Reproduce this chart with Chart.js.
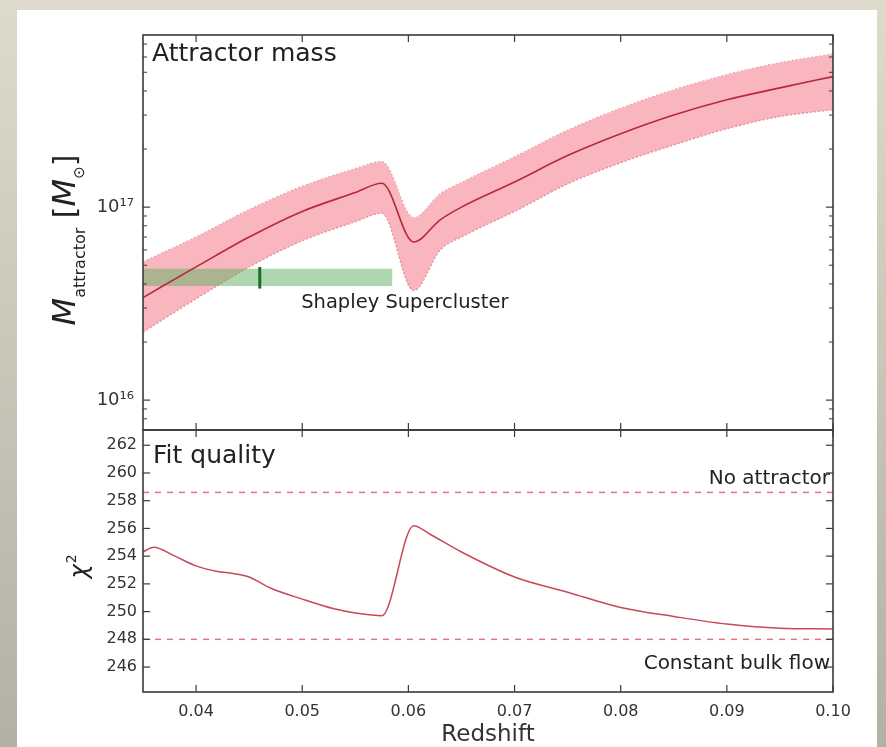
<!DOCTYPE html>
<html><head><meta charset="utf-8">
<script src="https://cdn.jsdelivr.net/npm/chart.js@4.4.1/dist/chart.umd.min.js"></script>
<style>
html,body{margin:0;padding:0;width:886px;height:747px;overflow:hidden;background:linear-gradient(#dedbcd,#b3b1a3);}
#panel{position:absolute;left:17px;top:10px;width:860px;height:737px;background:#fff;}
.wrap{position:absolute;left:0;top:0;width:886px;height:747px;}
canvas{position:absolute;left:0;top:0;}
</style></head>
<body>
<div id="panel"></div>
<div class="wrap"><canvas id="c1" width="886" height="747"></canvas></div>
<div class="wrap"><canvas id="c2" width="886" height="747"></canvas></div>
<script>
// ---------- data ----------
const redshift  = [0.035,0.040,0.045,0.050,0.055,0.0575,0.0605,0.063,0.065,0.070,0.075,0.080,0.085,0.090,0.095,0.100];
const massBest  = [3.4, 4.9, 7.0, 9.5, 11.9, 13.3, 6.6, 8.6, 10.0, 13.5, 18.5, 24.0, 30.0, 36.0, 41.5, 47.5]; // x 1e16 Msun
const massUpper = [5.2, 7.0, 9.7, 12.8,15.8, 17.2, 8.8, 11.7,13.4,18.2, 25.0, 32.5, 40.5, 48.5, 56.0, 62.0];
const massLower = [2.25,3.35,4.9, 6.7, 8.4,  9.3, 3.7, 6.0, 7.0, 9.5, 13.2, 17.0, 21.0, 25.5, 29.5, 32.0];
const massUnit = 1e16;

const chiZ = [0.035,0.036,0.038,0.040,0.042,0.0435,0.045,0.047,0.050,0.053,0.055,0.0575,0.0605,0.062,0.065,0.070,0.075,0.080,0.085,0.090,0.095,0.100];
const chi2 = [254.3,254.65,254.0,253.3,252.9,252.75,252.5,251.7,250.9,250.2,249.9,249.7,256.2,255.6,254.3,252.5,251.4,250.3,249.65,249.1,248.8,248.75];

const shapleyZ = [0.035, 0.0585];
const shapleyMass = [3.9e16, 4.8e16];
const shapleyCentreZ = 0.046;
const noAttractorChi2 = 258.6;
const bulkFlowChi2 = 248.0;

const xTicks = [0.04,0.05,0.06,0.07,0.08,0.09,0.10];
const massTicks = [1e16, 1e17];
const massMinorTicks = [8e15,9e15,2e16,3e16,4e16,5e16,6e16,7e16,8e16,9e16,2e17,3e17,4e17,5e17,6e17,7e17];
const chiTicks = [246,248,250,252,254,256,258,260,262];
const supDigits = {'0':'\u2070','1':'\u00b9','2':'\u00b2','3':'\u00b3','4':'\u2074','5':'\u2075','6':'\u2076','7':'\u2077','8':'\u2078','9':'\u2079'};

Chart.defaults.font.family = "'DejaVu Sans', sans-serif";
Chart.defaults.color = '#333';

const FONT = "'DejaVu Sans', sans-serif";
const LEFT = 143, RIGHT_PAD = 53;

function frame(chart, yMajor, yMinor) {
  const {ctx, chartArea: a, scales} = chart;
  const xs = scales.x, ys = scales.y;
  ctx.save();
  ctx.strokeStyle = '#3a3a3a';
  const seg = (x1,y1,x2,y2) => {ctx.beginPath();ctx.moveTo(x1,y1);ctx.lineTo(x2,y2);ctx.stroke();};
  ctx.lineWidth = 1.2;
  xTicks.forEach(v => {const p = xs.getPixelForValue(v); seg(p,a.top,p,a.top+7); seg(p,a.bottom,p,a.bottom-7);});
  yMajor.forEach(v => {const p = ys.getPixelForValue(v); seg(a.left,p,a.left+7,p); seg(a.right,p,a.right-7,p);});
  ctx.lineWidth = 1;
  yMinor.forEach(v => {const p = ys.getPixelForValue(v); seg(a.left,p,a.left+4,p); seg(a.right,p,a.right-4,p);});
  ctx.lineWidth = 1.6;
  ctx.strokeRect(a.left, a.top, a.right-a.left, a.bottom-a.top);
  ctx.restore();
}

// ---------- top chart ----------
const pts = (xs, ys, k=1) => xs.map((x,i)=>({x, y: ys[i]*k}));

const topPlugin = {
  id: 'topDecor',
  afterDraw(chart) {
    frame(chart, massTicks, massMinorTicks);
    const {ctx, chartArea: a, scales} = chart;
    ctx.save();
    ctx.fillStyle = '#222';
    ctx.textBaseline = 'alphabetic';
    ctx.font = `25px ${FONT}`;
    ctx.fillText('Attractor mass', a.left + 9, a.top + 26);
    ctx.font = `19.5px ${FONT}`;
    ctx.fillText('Shapley Supercluster', scales.x.getPixelForValue(0.0499), scales.y.getPixelForValue(3.0e16));
    // y-axis title
    const parts = [
      {t:'M', f:`italic 32px ${FONT}`, dy:0},
      {t:'attractor', f:`16px ${FONT}`, dy:10},
      {t:' [', f:`30px ${FONT}`, dy:0},
      {t:'M', f:`italic 32px ${FONT}`, dy:0},
      {t:'\u2299', f:`15px ${FONT}`, dy:9},
      {t:']', f:`30px ${FONT}`, dy:0}
    ];
    let w = 0;
    parts.forEach(p => {ctx.font = p.f; p.w = ctx.measureText(p.t).width; w += p.w;});
    ctx.translate(75, 240);
    ctx.rotate(-Math.PI/2);
    let u = -w/2;
    parts.forEach(p => {ctx.font = p.f; ctx.fillText(p.t, u, p.dy); u += p.w;});
    ctx.restore();
  }
};

new Chart(document.getElementById('c1'), {
  type: 'line',
  data: {
    datasets: [
      {label:'mass', data: pts(redshift, massBest, massUnit), borderColor:'#b8283a', borderWidth:1.6,
       pointRadius:0, fill:false, cubicInterpolationMode:'monotone', order:0},
      {label:'shapleyCentre', data:[{x:shapleyCentreZ,y:shapleyMass[0]*0.97},{x:shapleyCentreZ,y:shapleyMass[1]*1.02}],
       borderColor:'#1f6b2c', borderWidth:3, pointRadius:0, fill:false, order:1},
      {label:'shapleyHi', data: shapleyZ.map(z=>({x:z,y:shapleyMass[1]})), borderColor:'rgba(0,0,0,0)', borderWidth:0,
       pointRadius:0, fill:false, order:3},
      {label:'shapleyLo', data: shapleyZ.map(z=>({x:z,y:shapleyMass[0]})), borderColor:'rgba(0,0,0,0)', borderWidth:0,
       pointRadius:0, fill:'-1', backgroundColor:'rgba(95,175,95,0.5)', order:2},
      {label:'upper', data: pts(redshift, massUpper, massUnit), borderColor:'rgba(232,135,148,0.9)', borderWidth:1.4, borderDash:[2,2],
       pointRadius:0, fill:false, cubicInterpolationMode:'monotone', order:5},
      {label:'lower', data: pts(redshift, massLower, massUnit), borderColor:'rgba(232,135,148,0.9)', borderWidth:1.4, borderDash:[2,2],
       pointRadius:0, fill:'-1', backgroundColor:'#f9b6be', cubicInterpolationMode:'monotone', order:4}
    ]
  },
  options: {
    responsive:false, animation:false, events:[],
    layout:{padding:{left:0,right:RIGHT_PAD,top:35,bottom:747-430}},
    plugins:{legend:{display:false}, tooltip:{enabled:false}},
    scales:{
      x:{type:'linear', min:0.035, max:0.10, display:false},
      y:{type:'logarithmic', min:7.0e15, max:7.8e17,
         afterFit: s => {s.width = LEFT;},
         afterBuildTicks: s => {s.ticks = massTicks.map(v=>({value:v, major:true}));},
         grid:{display:false, drawTicks:false}, border:{display:false},
         ticks:{padding:9, font:{size:18}, color:'#333', autoSkip:false,
           callback: v => { const e = Math.round(Math.log10(v)); return '10' + String(e).split('').map(d=>supDigits[d]).join(''); }}
      }
    }
  },
  plugins:[topPlugin]
});

// ---------- bottom chart ----------
const botPlugin = {
  id: 'botDecor',
  afterDraw(chart) {
    frame(chart, chiTicks, []);
    const {ctx, chartArea: a, scales} = chart;
    ctx.save();
    ctx.fillStyle = '#222';
    ctx.textBaseline = 'alphabetic';
    ctx.font = `25px ${FONT}`;
    ctx.fillText('Fit quality', a.left + 10, a.top + 33);
    ctx.font = `20px ${FONT}`;
    ctx.textAlign = 'right';
    ctx.fillText('No attractor', a.right - 3, scales.y.getPixelForValue(noAttractorChi2) - 8);
    ctx.fillText('Constant bulk flow', a.right - 3, scales.y.getPixelForValue(bulkFlowChi2) + 30);
    // chi^2 title
    ctx.textAlign = 'left';
    ctx.translate(87, 567);
    ctx.rotate(-Math.PI/2);
    ctx.font = `italic 24px ${FONT}`;
    const w1 = ctx.measureText('\u03c7').width;
    ctx.font = `14px ${FONT}`;
    const w2 = ctx.measureText('2').width;
    const u0 = -(w1+w2)/2;
    ctx.font = `italic 24px ${FONT}`;
    ctx.fillText('\u03c7', u0, 0);
    ctx.font = `14px ${FONT}`;
    ctx.fillText('2', u0 + w1 + 1, -11);
    ctx.restore();
  }
};

new Chart(document.getElementById('c2'), {
  type: 'line',
  data: {
    datasets: [
      {label:'chi2', data: pts(chiZ, chi2), borderColor:'#c9485a', borderWidth:1.5, pointRadius:0, fill:false,
       cubicInterpolationMode:'monotone'},
      {label:'noAttractor', data: [{x:0.035,y:noAttractorChi2},{x:0.10,y:noAttractorChi2}], borderColor:'#e57585',
       borderWidth:1.5, borderDash:[6,6], pointRadius:0, fill:false},
      {label:'bulkFlow', data: [{x:0.035,y:bulkFlowChi2},{x:0.10,y:bulkFlowChi2}], borderColor:'#e57585',
       borderWidth:1.5, borderDash:[6,6], pointRadius:0, fill:false}
    ]
  },
  options: {
    responsive:false, animation:false, events:[],
    layout:{padding:{left:0,right:RIGHT_PAD,top:430,bottom:0}},
    plugins:{legend:{display:false}, tooltip:{enabled:false}},
    scales:{
      x:{type:'linear', min:0.035, max:0.10, bounds:'data',
         afterFit: s => {s.height = 747-692;},
         afterBuildTicks: s => {s.ticks = xTicks.map(v=>({value:v}));},
         grid:{display:false, drawTicks:false}, border:{display:false},
         ticks:{padding:10, font:{size:16}, color:'#333', autoSkip:false, maxRotation:0, callback: v => v.toFixed(2)},
         title:{display:true, text:'Redshift', font:{size:23, lineHeight:1.0}, color:'#333', padding:{top:0,bottom:0}}
      },
      y:{type:'linear', min:244.2, max:263.1, bounds:'data',
         afterFit: s => {s.width = LEFT;},
         afterBuildTicks: s => {s.ticks = chiTicks.map(v=>({value:v}));},
         grid:{display:false, drawTicks:false}, border:{display:false},
         ticks:{padding:6, font:{size:16}, color:'#333', autoSkip:false, callback: v => String(v)}
      }
    }
  },
  plugins:[botPlugin]
});
</script>
</body></html>
